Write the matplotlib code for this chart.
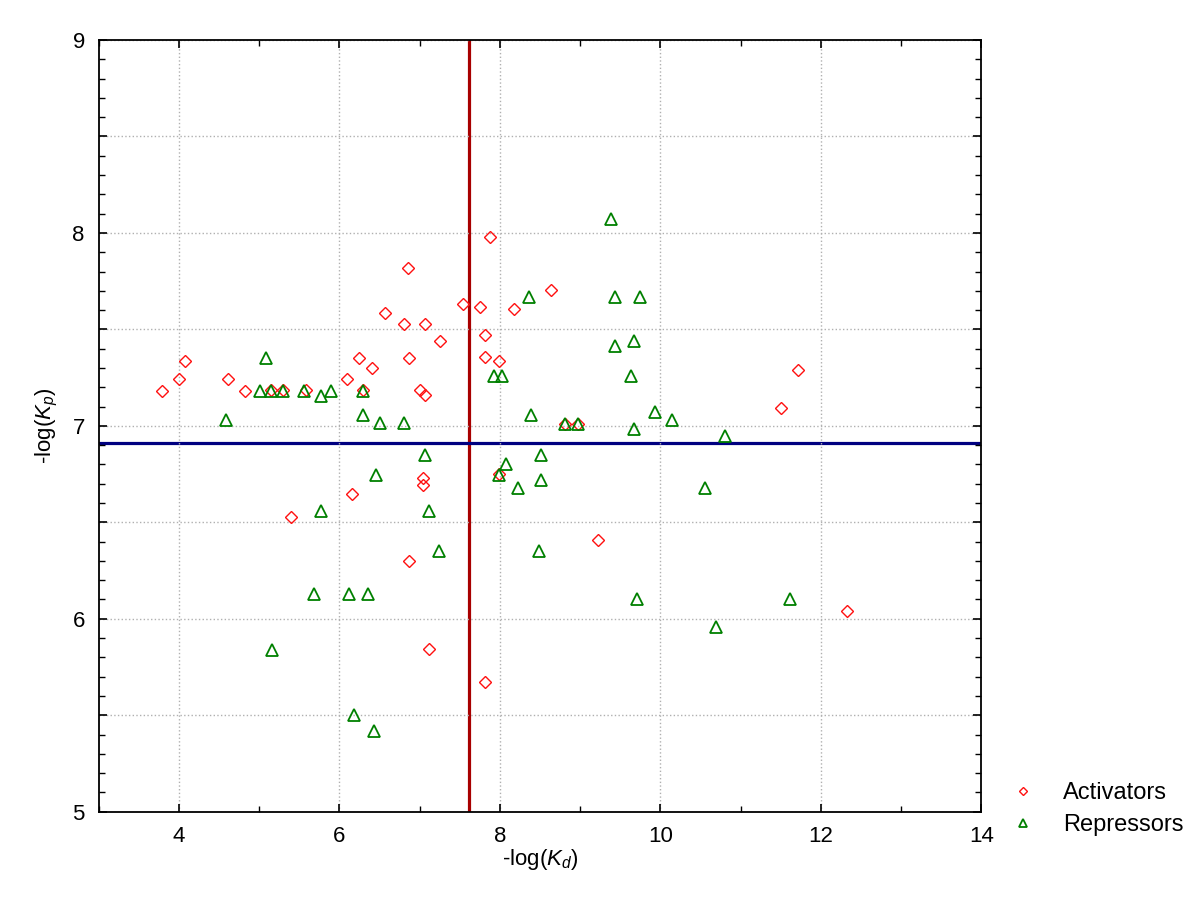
import matplotlib
matplotlib.use("Agg")
import matplotlib.pyplot as plt
from matplotlib.ticker import MultipleLocator, FuncFormatter

plt.rcParams['font.family'] = ['Liberation Sans', 'DejaVu Sans']
plt.rcParams['mathtext.fontset'] = 'custom'
plt.rcParams['mathtext.rm'] = 'Liberation Sans'
plt.rcParams['mathtext.it'] = 'Liberation Sans:italic'

# Activators (-log Kd, -log Kp)
act_x = [3.79, 4.00, 4.07, 4.61, 4.82, 5.15, 5.30, 5.58, 5.40, 6.09, 6.24, 6.40,
         6.29, 6.57, 6.80, 7.07, 6.85, 7.255, 6.865, 7.00, 7.07, 7.04, 7.04, 6.16,
         6.865, 7.12, 7.81, 7.536, 7.75, 7.81, 7.81, 7.99, 7.88, 8.17, 8.64,
         8.81, 8.975, 7.99, 9.22, 11.50, 11.72, 12.32]
act_y = [7.183, 7.245, 7.337, 7.245, 7.183, 7.185, 7.185, 7.185, 6.525, 7.244, 7.354, 7.30,
         7.187, 7.584, 7.527, 7.527, 7.82, 7.442, 7.354, 7.187, 7.162, 6.73, 6.695, 6.646,
         6.302, 5.843, 5.67, 7.632, 7.618, 7.47, 7.356, 7.337, 7.98, 7.605, 7.705,
         7.01, 7.01, 6.75, 6.41, 7.092, 7.29, 6.04]

# Repressors
rep_x = [5.08, 5.01, 5.15, 5.30, 5.56, 5.775, 5.90, 6.30, 4.585, 6.30, 6.50, 6.80,
         7.07, 6.46, 7.12, 5.775, 7.246, 7.93, 8.03, 9.435, 9.67, 9.63, 8.39, 8.81,
         8.975, 9.67, 9.93, 10.15, 10.81, 8.51, 8.075, 7.99, 8.22, 8.51, 10.56, 8.49,
         8.36, 9.39, 9.435, 9.746, 5.68, 6.12, 6.355, 5.165, 6.176, 6.43, 9.71, 11.61,
         10.69]
rep_y = [7.35, 7.183, 7.183, 7.183, 7.183, 7.155, 7.183, 7.183, 7.03, 7.057, 7.014, 7.017,
         6.85, 6.746, 6.56, 6.56, 6.349, 7.26, 7.26, 7.414, 7.442, 7.259, 7.057, 7.009,
         7.009, 6.983, 7.074, 7.031, 6.945, 6.85, 6.80, 6.746, 6.677, 6.72, 6.677, 6.349,
         7.67, 8.071, 7.67, 7.67, 6.13, 6.13, 6.13, 5.839, 5.499, 5.416, 6.102, 6.102,
         5.96]

kd_cut = 7.61
kp_cut = 6.91

fig = plt.figure(figsize=(12, 9.17), dpi=100)
ax = fig.add_axes([0.0822, 0.1148, 0.7357, 0.8416])

ax.axvline(kd_cut, color='#a80000', lw=2.3, zorder=1)
ax.axhline(kp_cut, color='#000080', lw=2.3, zorder=1)

ax.plot(act_x, act_y, 'D', ms=6.5, mfc='none', mec='#ff1010', mew=1.0,
        label='Activators', zorder=3)
ax.plot(rep_x, rep_y, '^', ms=8, mfc='none', mec='#008000', mew=1.3,
        label='Repressors', zorder=3)

ax.set_xlim(3, 14)
ax.set_ylim(5, 9)
ax.xaxis.set_major_locator(MultipleLocator(2))
ax.xaxis.set_minor_locator(MultipleLocator(1))
ax.yaxis.set_major_locator(MultipleLocator(0.5))
ax.yaxis.set_minor_locator(MultipleLocator(0.1))
ax.yaxis.set_major_formatter(FuncFormatter(lambda v, p: '%d' % v if v == int(v) else ''))
ax.tick_params(which='both', direction='in', top=True, right=True, labelsize=16, pad=10)
ax.tick_params(which='major', length=6, width=1.2)
ax.tick_params(which='minor', length=4, width=1)
ax.grid(True, which='major', ls=':', color='#b0b0b0', lw=1)
for s in ax.spines.values():
    s.set_linewidth(1.3)

ax.set_xlabel(r'-log($K_d$)', fontsize=16, labelpad=0)
ax.set_ylabel(r'-log($K_p$)', fontsize=16, labelpad=9)

fig.legend(loc='upper left', bbox_to_anchor=(0.815, 0.17), frameon=False,
           fontsize=17, markerscale=0.65, handletextpad=0.7, labelspacing=0.4)

plt.savefig("out.png")
